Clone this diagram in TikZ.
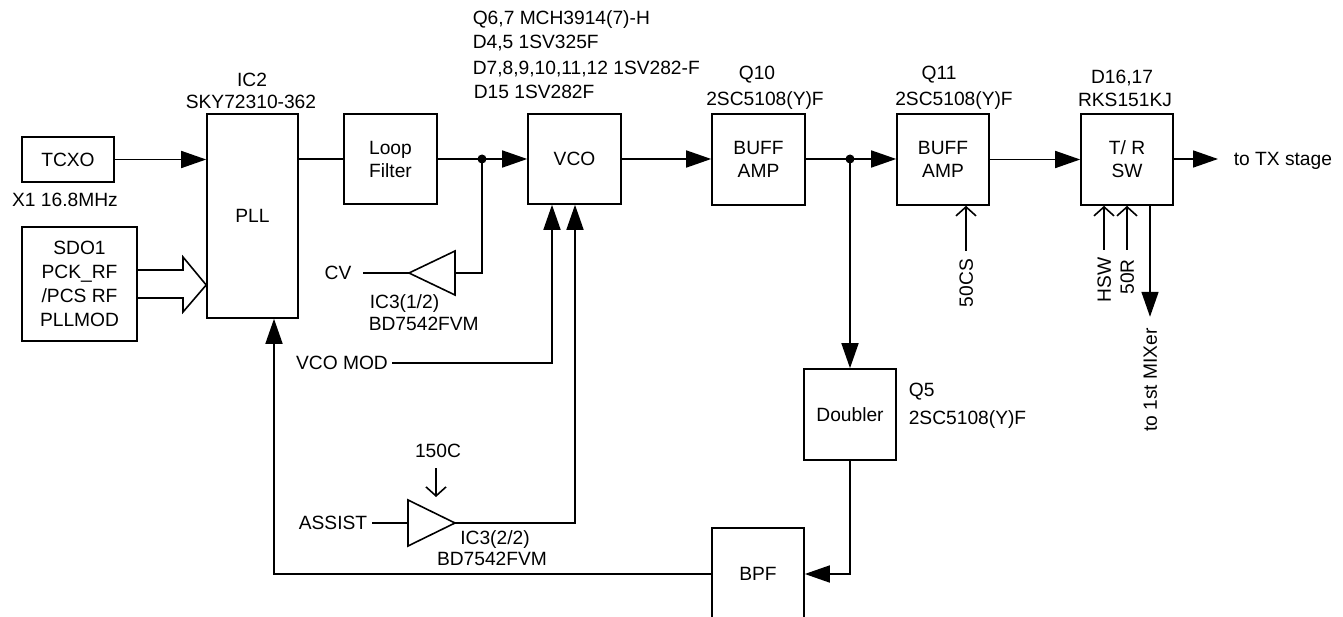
\documentclass[tikz,border=0pt]{standalone}
\usepackage{fontspec}
\setmainfont{Liberation Sans}
\usetikzlibrary{arrows.meta}
\begin{document}
\begin{tikzpicture}[x=1pt,y=-1pt, line width=1.6pt,
  every node/.style={font=\fontsize{19.2}{23}\selectfont},
  blk/.style={draw, inner sep=0pt, align=center},
  lbl/.style={inner sep=0pt, text height=13.8pt, text depth=0pt},
  arr/.style={-{Triangle[length=25pt,width=17pt]}},
  barb/.style={-{Straight Barb[length=9pt,width=20pt]}}]
\useasboundingbox (0,0) rectangle (1343,617);

% blocks
\node[blk, minimum width=92pt, minimum height=45pt] (tcxo) at (68,159.5) {TCXO};
\node[blk, minimum width=91pt, minimum height=204pt] (pll) at (252.5,216) {PLL};
\node[blk, minimum width=115pt, minimum height=114pt, font=\fontsize{19.2}{24}\selectfont] (sdo) at (79.5,284) {SDO1\\PCK\_RF\\/PCS RF\\PLLMOD};
\node[blk, minimum width=93pt, minimum height=90pt] (loop) at (390.5,159) {Loop\\Filter};
\node[blk, minimum width=93pt, minimum height=90pt] (vco) at (574.5,159) {VCO};
\node[blk, minimum width=93pt, minimum height=91pt] (buf1) at (758.5,159.5) {BUFF\\AMP};
\node[blk, minimum width=92pt, minimum height=91pt] (buf2) at (943,159.5) {BUFF\\AMP};
\node[blk, minimum width=92pt, minimum height=91pt] (trsw) at (1127,159.5) {T/ R\\SW};
\node[blk, minimum width=92pt, minimum height=91pt] (dbl) at (850,414.5) {Doubler};
\node[blk, minimum width=92pt, minimum height=92pt] (bpf) at (758,574) {BPF};

% amplifiers
\draw (455,251) -- (455,295) -- (409,273) -- cycle;
\coordinate (a1in) at (455,273);
\coordinate (a1out) at (409,273);
\draw (408,500) -- (408,546) -- (455,523) -- cycle;
\coordinate (a2in) at (408,523);
\coordinate (a2out) at (455,523);

% labels
\node[lbl] (ic2) at (252,80) {IC2};
\node[lbl] (sky) at (251,102) {SKY72310-362};
\node[lbl] (x1) at (65,200) {X1 16.8MHz};
\node[lbl, anchor=west] (q67) at (472,18) {Q6,7 MCH3914(7)-H};
\node[lbl, anchor=west] (d45) at (472,42) {D4,5 1SV325F};
\node[lbl, anchor=west] (d712) at (472,68) {D7,8,9,10,11,12 1SV282-F};
\node[lbl, anchor=west] (d15) at (473,92) {D15 1SV282F};
\node[lbl] (q10) at (757,73) {Q10};
\node[lbl] (q10t) at (765,99) {2SC5108(Y)F};
\node[lbl] (q11) at (939,73) {Q11};
\node[lbl] (q11t) at (954,99) {2SC5108(Y)F};
\node[lbl] (d1617) at (1122,77) {D16,17};
\node[lbl] (rks) at (1125,100) {RKS151KJ};
\node[lbl] (cv) at (338,273) {CV};
\node[lbl, anchor=west] (ic31) at (369,302) {IC3(1/2)};
\node[lbl, anchor=west] (bd1) at (368,324) {BD7542FVM};
\node[lbl] (vcomod) at (342,363) {VCO MOD};
\node[lbl] (c150) at (438,451) {150C};
\node[lbl] (assist) at (333,523) {ASSIST};
\node[lbl] (ic32) at (495,538) {IC3(2/2)};
\node[lbl] (bd2) at (492,559) {BD7542FVM};
\node[lbl, anchor=west] (q5) at (908,390) {Q5};
\node[lbl, anchor=west] (q5t) at (908,418) {2SC5108(Y)F};
\node[lbl, anchor=west] (tx) at (1233,159) {to TX stage};
\node[lbl, rotate=90] (cs50) at (966,283) {50CS};
\node[lbl, rotate=90] (hsw) at (1104,280) {HSW};
\node[lbl, rotate=90] (r50) at (1127,277) {50R};
\node[lbl, rotate=90] (mix) at (1150,380) {to 1st MIXer};

% coordinates
\coordinate (j1) at (482,159);
\coordinate (j2) at (850,159);
\coordinate (cvend) at (363,273);
\coordinate (modstart) at (392,363);
\coordinate (asstart) at (372,523);
\coordinate (c150top) at (436,468);
\coordinate (c150bot) at (436,497);
\coordinate (cs50top) at (966,251);
\coordinate (hswtop) at (1104,250);
\coordinate (r50top) at (1127,250);
\coordinate (txend) at (1218,159);

% connectors
\draw[arr] (tcxo.east) -- (tcxo.east -| pll.west);
\draw (pll.east |- loop.west) -- (loop.west);
\draw (loop.east) -- (j1);
\draw[arr] (j1) -- (vco.west);
\draw (j1) -- (j1 |- a1in) -- (a1in);
\fill (j1) circle (4.5pt);
\draw (a1out) -- (cvend);
\draw[arr] (modstart) -| ([xshift=-22.5pt]vco.south);
\draw (asstart) -- (a2in);
\draw[arr] (a2out) -| ([xshift=0.5pt]vco.south);
\draw[barb] (c150top) -- (c150bot);
\draw[arr] (vco.east) -- (vco.east -| buf1.west);
\draw (buf1.east |- j2) -- (j2);
\draw[arr] (j2) -- (j2 -| buf2.west);
\draw[arr] (j2) -- (dbl.north);
\fill (j2) circle (4.5pt);
\draw[arr] (buf2.east) -- (trsw.west);
\draw[arr] (trsw.east |- txend) -- (txend);
\draw[barb] (cs50top) -- (cs50top |- buf2.south);
\draw[barb] (hswtop) -- (hswtop |- trsw.south);
\draw[barb] (r50top) -- (r50top |- trsw.south);
\draw[arr] ([xshift=23pt]trsw.south) -- ++(0,111);
\draw[arr] (dbl.south) |- (bpf.east);
\draw[arr] (bpf.west) -| ([xshift=21.5pt]pll.south);
\draw (sdo.east |- 0,270) -- (183,270) -- (183,257) -- (pll.west |- 0,285) -- (183,312) -- (183,298) -- (sdo.east |- 0,298);
\end{tikzpicture}
\end{document}
